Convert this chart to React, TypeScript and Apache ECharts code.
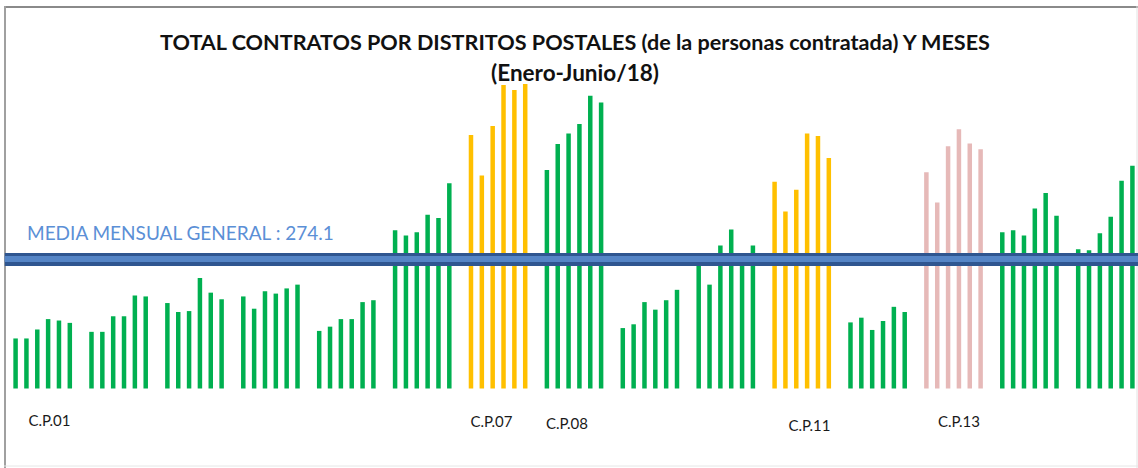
import React, { useEffect, useRef } from "react";
import * as echarts from "echarts";

// ---------- data ----------
const DISTRICTS = [
  "C.P.01", "C.P.02", "C.P.03", "C.P.04", "C.P.05",
  "C.P.06", "C.P.07", "C.P.08", "C.P.09", "C.P.10",
  "C.P.11", "C.P.12", "C.P.13", "C.P.14", "C.P.15",
];
const MONTHS = ["Enero", "Febrero", "Marzo", "Abril", "Mayo", "Junio"];

// contracts per district, Enero..Junio
const CP01 = [106, 106, 125, 147, 144, 139];
const CP02 = [120, 120, 153, 153, 197, 195];
const CP03 = [181, 162, 164, 234, 203, 189];
const CP04 = [195, 169, 206, 201, 212, 220];
const CP05 = [122, 131, 147, 147, 183, 187];
const CP06 = [335, 324, 331, 368, 361, 435];
const CP07 = [537, 451, 556, 643, 632, 645];
const CP08 = [463, 518, 540, 560, 620, 606];
const CP09 = [128, 136, 183, 167, 187, 209];
const CP10 = [271, 220, 303, 337, 268, 303];
const CP11 = [438, 375, 421, 540, 535, 488];
const CP12 = [140, 150, 124, 143, 173, 162];
const CP13 = [458, 394, 513, 549, 519, 507];
const CP14 = [331, 335, 324, 381, 414, 366];
const CP15 = [295, 293, 329, 364, 440, 472];
const VALUES = [CP01, CP02, CP03, CP04, CP05, CP06, CP07, CP08, CP09, CP10, CP11, CP12, CP13, CP14, CP15];

const MEAN = 274.1;
const MEAN_LABEL = "MEDIA MENSUAL GENERAL";
const LABELED = ["C.P.01", "C.P.07", "C.P.08", "C.P.11", "C.P.13"];
const TITLE_1 = "TOTAL CONTRATOS POR DISTRITOS POSTALES (de la personas contratada) Y MESES";
const TITLE_2 = "(Enero-Junio/18)";

// ---------- styles ----------
const GREEN = "#00b050";
const ORANGE = "#ffc000";
const PINK = "#e6b9b8";
const HIGHLIGHT: Record<string, string> = { "C.P.07": ORANGE, "C.P.11": ORANGE, "C.P.13": PINK };
// label nudges [dx, dy] (px)
const LABEL_SHIFT: Record<string, [number, number]> = {
  "C.P.01": [6.8, 0],
  "C.P.07": [-6.6, 1.5],
  "C.P.08": [-7, 3.5],
  "C.P.11": [7.8, 5.5],
  "C.P.13": [5.5, 1.5],
};

export default function App() {
  const ref = useRef<HTMLDivElement>(null);

  useEffect(() => {
    if (!ref.current) return;
    const chart = echarts.init(ref.current, undefined, { renderer: "svg" });

    const rich: Record<string, any> = {};
    DISTRICTS.forEach((d, i) => {
      const s = LABEL_SHIFT[d] || [0, 0];
      rich["l" + i] = {
        fontFamily: "Lato",
        fontSize: 15,
        color: "#1a1a1a",
        padding: [s[1], s[0] < 0 ? -2 * s[0] : 0, 0, s[0] > 0 ? 2 * s[0] : 0],
      };
    });

    const series = MONTHS.map((m, mi) => ({
      type: "bar",
      name: m,
      data: VALUES.map((v) => v[mi]),
      barWidth: 4.5,
      barGap: "141%",
      itemStyle: {
        color: (p: any) => HIGHLIGHT[DISTRICTS[p.dataIndex]] || GREEN,
      },
      markLine:
        mi === 0
          ? {
              silent: true,
              symbol: "none",
              z: 10,
              data: [
                {
                  yAxis: MEAN,
                  lineStyle: { color: "#2f5690", width: 13, type: "solid" },
                  label: {
                    show: true,
                    position: "insideStartTop",
                    distance: [22.25, 17],
                    formatter: `${MEAN_LABEL} : ${MEAN}`,
                    fontFamily: "Lato",
                    fontSize: 19,
                    color: "#5b8fd6",
                  },
                },
                {
                  yAxis: MEAN,
                  lineStyle: { color: "#5585c6", width: 6, type: "solid" },
                  label: { show: false },
                },
              ],
            }
          : undefined,
    }));

    chart.setOption({
      animation: false,
      backgroundColor: "#ffffff",
      title: {
        left: 570,
        top: 22,
        textAlign: "center",
        text: `{a|${TITLE_1}}\n{b|${TITLE_2}}`,
        textStyle: {
          rich: {
            a: {
              fontFamily: "Lato",
              fontWeight: "bold",
              fontSize: 21.6,
              lineHeight: 30,
              color: "#111111",
            },
            b: {
              fontFamily: "Lato",
              fontWeight: "bold",
              fontSize: 22.5,
              lineHeight: 30,
              color: "#111111",
            },
          },
        },
      },
      grid: {
        left: 4.75,
        top: 10.8,
        width: 1138.5,
        height: 377.7,
        containLabel: false,
        outerBoundsMode: "none",
      },
      xAxis: {
        type: "category",
        data: DISTRICTS,
        axisLine: { show: false },
        axisTick: { show: false },
        splitLine: { show: false },
        axisLabel: {
          interval: 0,
          hideOverlap: false,
          margin: 23.5,
          formatter: (value: string, index: number) =>
            LABELED.includes(value) ? `{l${index}|${value}}` : "",
          rich,
        },
      },
      yAxis: { type: "value", min: 0, max: 800, show: false, splitLine: { show: false } },
      graphic: [
        { type: "line", z: -1, shape: { x1: 4, y1: 7, x2: 1138, y2: 7 }, style: { stroke: "#8a8a8a", lineWidth: 2 } },
        { type: "line", z: -1, shape: { x1: 5, y1: 6, x2: 5, y2: 468 }, style: { stroke: "#a0a0a0", lineWidth: 2 } },
        { type: "line", z: -1, shape: { x1: 1137, y1: 6, x2: 1137, y2: 468 }, style: { stroke: "#e2e2e2", lineWidth: 1 } },
        { type: "line", z: -1, shape: { x1: 4, y1: 466, x2: 1138, y2: 466 }, style: { stroke: "#e6e6e6", lineWidth: 1 } },
      ],
      series,
    });

    return () => chart.dispose();
  }, []);

  return (
    <div
      ref={ref}
      style={{ position: "fixed", left: 0, top: 0, width: 1138, height: 468, background: "#fff" }}
    />
  );
}
